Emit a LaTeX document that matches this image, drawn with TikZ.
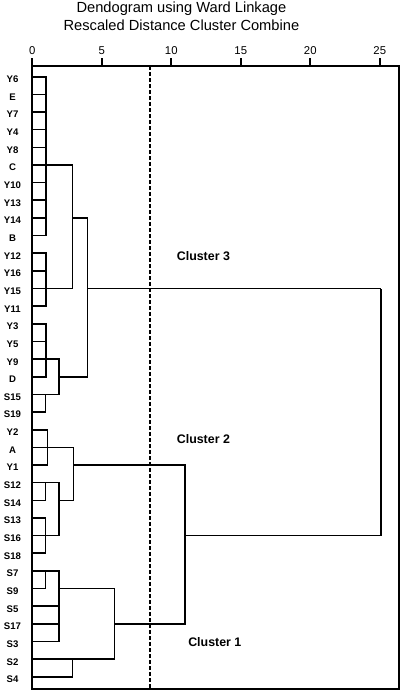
\documentclass[tikz,border=0pt]{standalone}
\usepackage{fontspec}
\setmainfont{Liberation Sans}
\usetikzlibrary{positioning}

\begin{document}
\begin{tikzpicture}[
      x=10.425pt, y=-13.2375pt,
      every node/.style={inner sep=0pt, align=center},
      leaf/.style={font=\fontsize{7.2}{8}\selectfont\bfseries},
      tick/.style={font=\fontsize{8.5}{10}\selectfont},
      heading/.style={font=\fontsize{11}{13}\selectfont},
      clabel/.style={font=\fontsize{9.3}{11}\selectfont\bfseries},
      link/.style={line width=1.2pt, line join=miter},
      frame/.style={line width=1.4pt},
      cut/.style={line width=1.1pt, dash pattern=on 3pt off 1.5pt}
  ]
    \useasboundingbox (-2.324,-4.346) rectangle (26.453,34.805);
    % title
    \node[heading] (title1) at (10.73,-3.875) {Dendogram using Ward Linkage};
    \node[heading] (title2) at (10.73,-2.929) {Rescaled Distance Cluster Combine};
    % axis and frame
    \coordinate (tl) at (0,-0.606);
    \coordinate (tr) at (26.36,-0.606);
    \coordinate (bl) at (0,34.69);
    \coordinate (br) at (26.36,34.69);
    \draw[frame] (0,-1.06) -- (bl) -- (br) -- (tr) -- (tl);
    \foreach \t in {0,5,...,25} {
      \node[tick] (t\t) at (\t,-1.456) {\t};
      \draw[frame] (\t,-1.06) -- (\t,-0.606);
    }
    % leaves
    \foreach \name [count=\i from 0] in {Y6,E,Y7,Y4,Y8,C,Y10,Y13,Y14,B,Y12,Y16,Y15,Y11,Y3,Y5,Y9,D,S15,S19,Y2,A,Y1,S12,S14,S13,S16,S18,S7,S9,S5,S17,S3,S2,S4} {
      \node[leaf] (n\i) at (-1.424,\i+0.147) {\name};
      \coordinate (p\i) at (0,\i);
    }
    % merge points
    \coordinate (k1) at (1,5);
    \coordinate (k2) at (1,12);
    \coordinate (k3) at (2.9,8);
    \coordinate (k4) at (1,16);
    \coordinate (k5) at (0.96,18);
    \coordinate (k6) at (1.94,17);
    \coordinate (k7) at (3.96,12);
    \coordinate (k8) at (1.08,21);
    \coordinate (k9) at (0.96,23);
    \coordinate (k10) at (0.96,26);
    \coordinate (k11) at (1.94,24);
    \coordinate (k12) at (2.95,22);
    \coordinate (k13) at (0.96,28);
    \coordinate (k14) at (1.94,29);
    \coordinate (k15) at (2.9,33);
    \coordinate (k16) at (5.9,31);
    \coordinate (k17) at (11,26);
    \coordinate (k18) at (25.09,12);
    % leaves to first merge
    \foreach \i in {0,...,9} { \draw[link] (p\i) -| (k1); }
    \foreach \i in {10,...,13} { \draw[link] (p\i) -| (k2); }
    \foreach \i in {14,...,17} { \draw[link] (p\i) -| (k4); }
    \foreach \i in {18,19} { \draw[link] (p\i) -| (k5); }
    \foreach \i in {20,21,22} { \draw[link] (p\i) -| (k8); }
    \foreach \i in {23,24} { \draw[link] (p\i) -| (k9); }
    \foreach \i in {25,26,27} { \draw[link] (p\i) -| (k10); }
    \foreach \i in {28,29} { \draw[link] (p\i) -| (k13); }
    \foreach \i in {30,31,32} { \draw[link] (p\i) -| (k14); }
    \foreach \i in {33,34} { \draw[link] (p\i) -| (k15); }
    % higher merges
    \foreach \a/\b in {k1/k3,k2/k3,k4/k6,k5/k6,k3/k7,k6/k7,k9/k11,k10/k11,
                       k8/k12,k11/k12,k13/k14,k14/k16,k15/k16,k12/k17,k16/k17,
                       k7/k18,k17/k18} {
      \draw[link] (\a) -| (\b);
    }
    % cut line and cluster labels
    \draw[cut] (8.47,-0.606) -- (8.47,34.69);
    \node[clabel] (cl3) at (12.31,10.14) {Cluster 3};
    \node[clabel] (cl2) at (12.31,20.53) {Cluster 2};
    \node[clabel] (cl1) at (13.13,32.05) {Cluster 1};
  \end{tikzpicture}
\end{document}
